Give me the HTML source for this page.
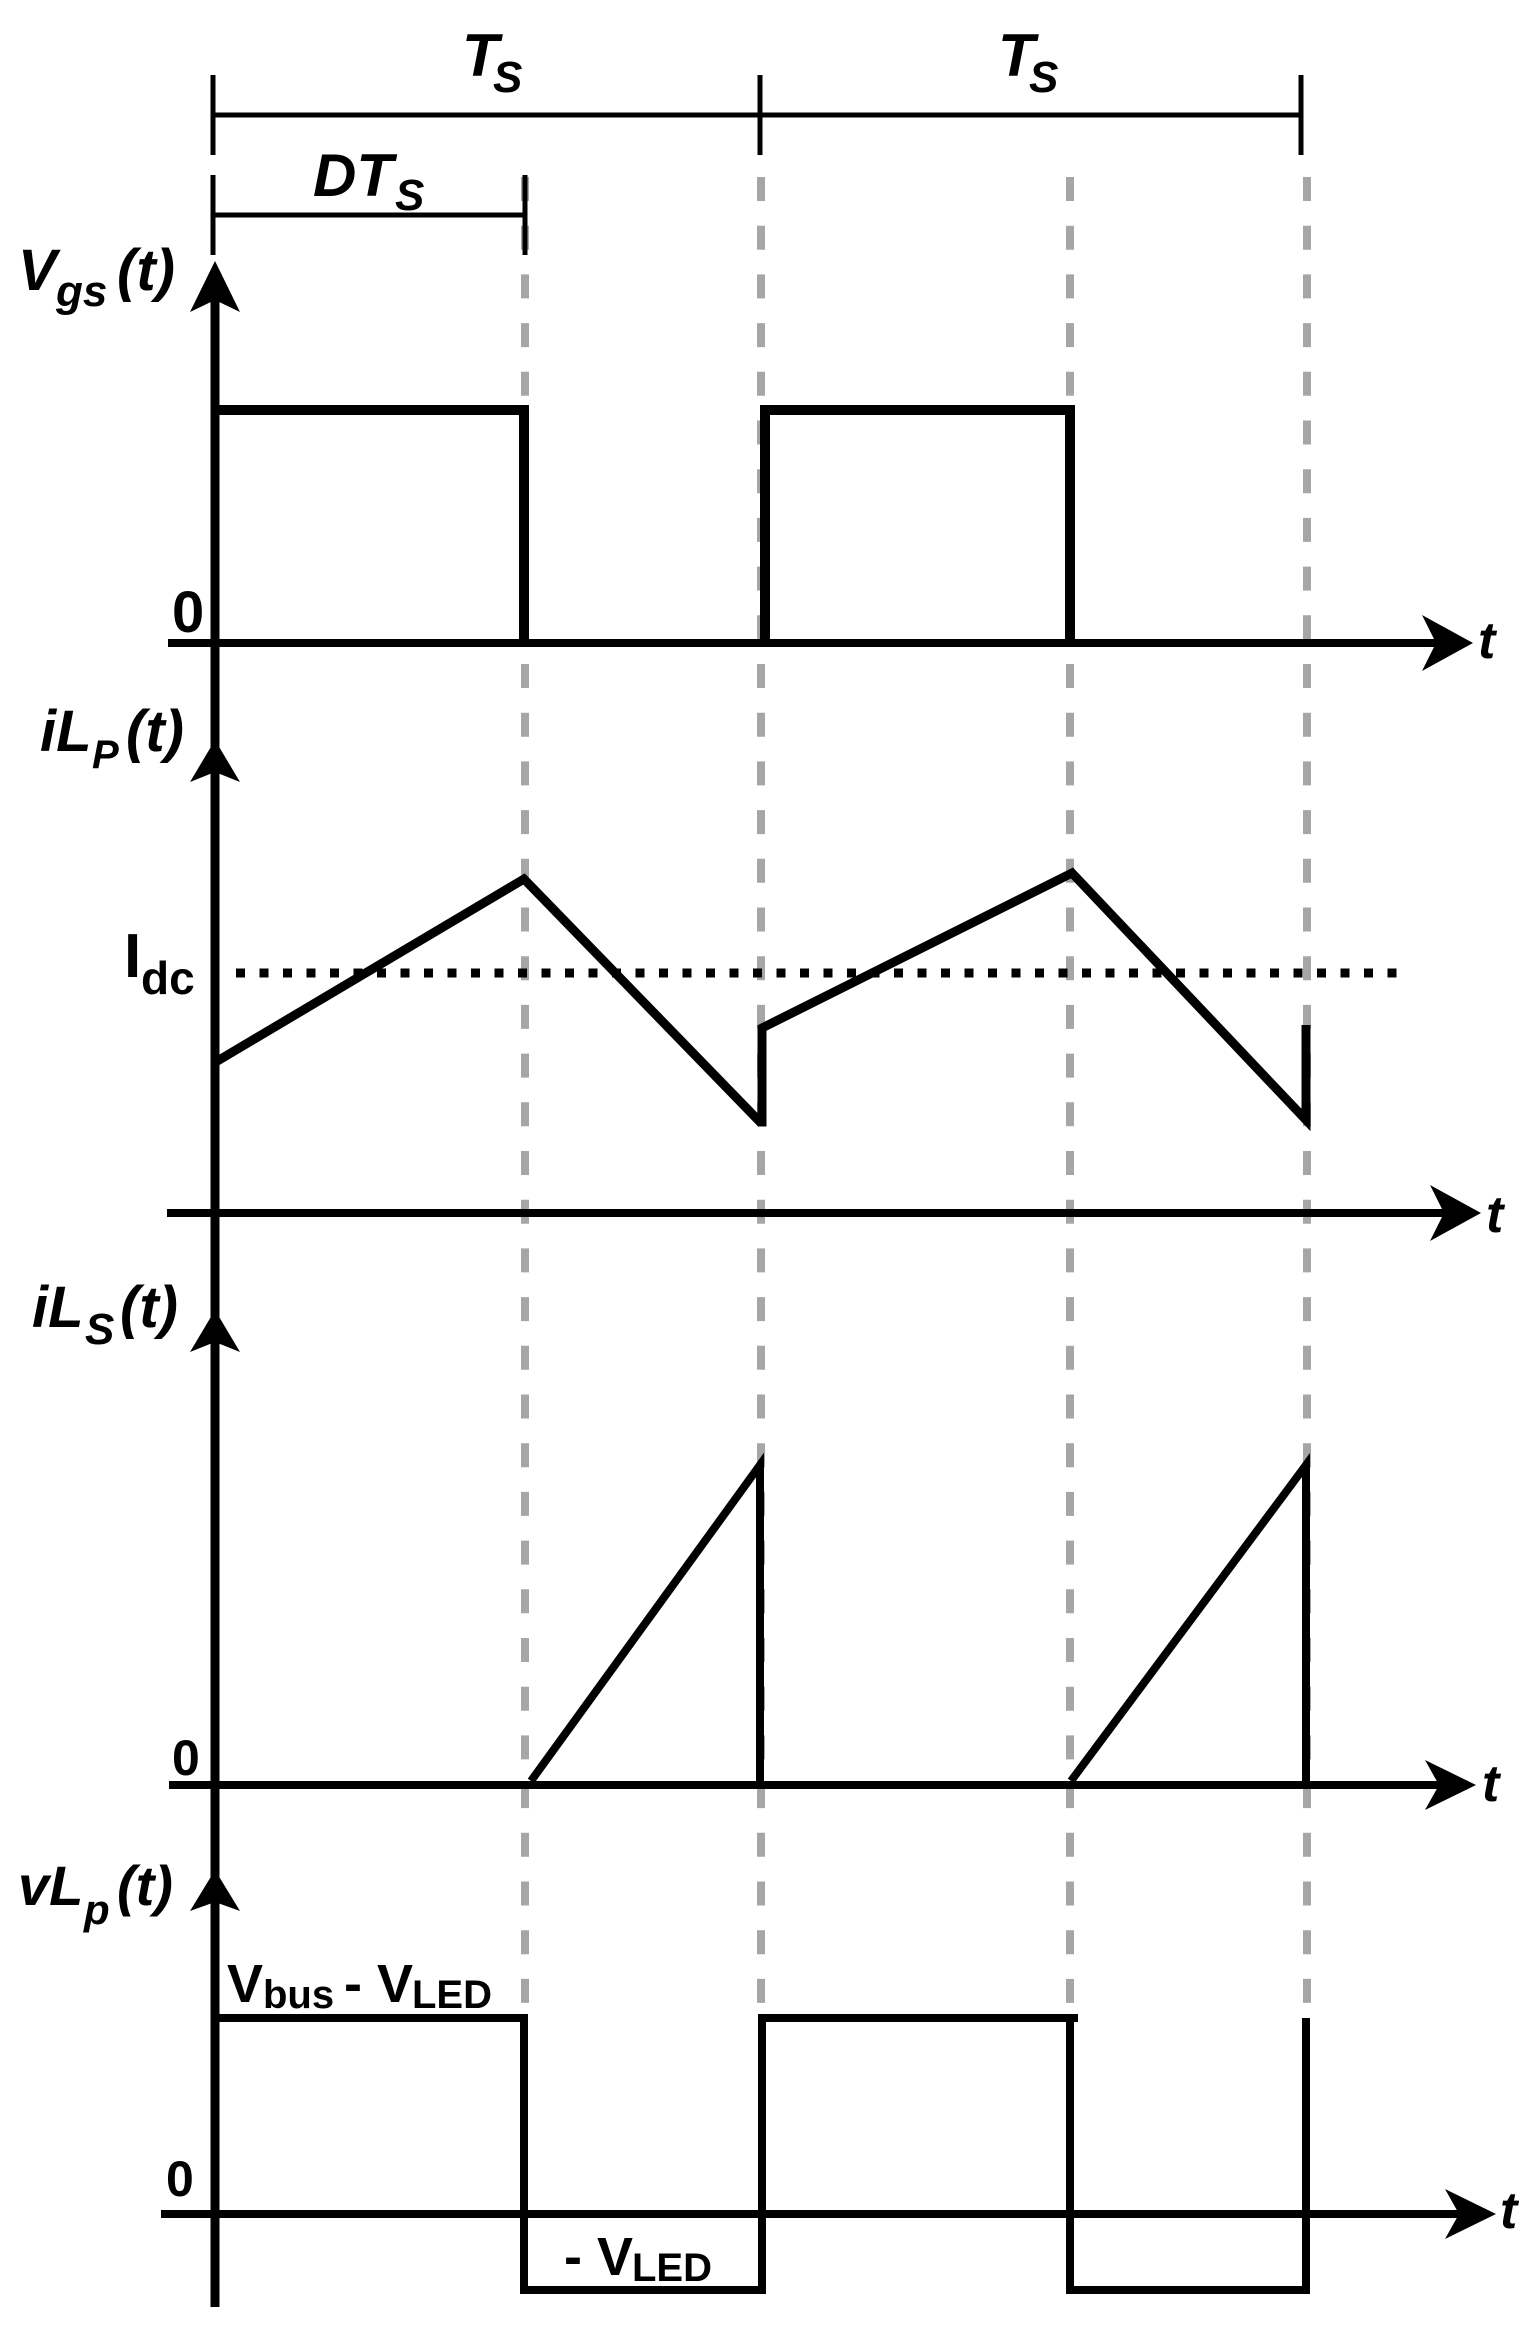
<!DOCTYPE html>
<html><head><meta charset="utf-8"><style>
html,body{margin:0;padding:0;background:#fff;}
svg{display:block;}
text{font-family:"Liberation Sans",Arial,sans-serif;fill:#000;}
.bi{font-weight:bold;font-style:italic;}
.b{font-weight:bold;}
</style></head><body>
<svg width="1536" height="2331" viewBox="0 0 1536 2331" xmlns="http://www.w3.org/2000/svg">
<g stroke="#a6a6a6" stroke-width="8" stroke-dasharray="24 24.7" fill="none">
  <line x1="525" y1="177" x2="525" y2="2014"/>
  <line x1="761" y1="177" x2="761" y2="2014"/>
  <line x1="1070" y1="177" x2="1070" y2="2014"/>
  <line x1="1307" y1="177" x2="1307" y2="2014"/>
</g>
<g stroke="#000" stroke-width="5" fill="none">
  <line x1="213" y1="75" x2="213" y2="155"/>
  <line x1="760" y1="75" x2="760" y2="155"/>
  <line x1="1301" y1="75" x2="1301" y2="155"/>
  <line x1="213" y1="115" x2="1301" y2="115"/>
  <line x1="213" y1="175" x2="213" y2="255"/>
  <line x1="525" y1="175" x2="525" y2="255"/>
  <line x1="213" y1="215" x2="525" y2="215"/>
</g>
<text x="462" y="76" class="bi" font-size="60">T</text>
<text x="493" y="92" class="bi" font-size="44">S</text>
<text x="998" y="76" class="bi" font-size="60">T</text>
<text x="1029" y="92" class="bi" font-size="44">S</text>
<text x="313" y="196" class="bi" font-size="60">DT</text>
<text x="395" y="210" class="bi" font-size="44">S</text>

<line x1="215" y1="290" x2="215" y2="2307" stroke="#000" stroke-width="9"/>
<g fill="#000">
  <polygon points="215,261 240,312 215,300 190,312"/>
  <polygon points="215,740 240,782 215,772 190,782"/>
  <polygon points="215,1310 240,1352 215,1342 190,1352"/>
  <polygon points="215,1870 240,1911 215,1902 190,1911"/>
</g>
<g stroke="#000" stroke-width="8">
  <line x1="168" y1="643" x2="1440" y2="643"/>
  <line x1="167" y1="1213" x2="1445" y2="1213"/>
  <line x1="169" y1="1785" x2="1440" y2="1785"/>
  <line x1="161" y1="2214" x2="1460" y2="2214"/>
</g>
<g fill="#000">
  <polygon points="1473,643 1422,615 1436,643 1422,671"/>
  <polygon points="1481,1213 1430,1185 1444,1213 1430,1241"/>
  <polygon points="1476,1785 1425,1760 1439,1785 1425,1810"/>
  <polygon points="1496,2214 1445,2189 1459,2214 1445,2239"/>
</g>
<g class="bi" font-size="52">
  <text x="1478" y="658">t</text>
  <text x="1486" y="1232">t</text>
  <text x="1482" y="1801">t</text>
  <text x="1500" y="2228">t</text>
</g>

<text x="18" y="290" class="bi" font-size="58">V</text>
<text x="56" y="306" class="bi" font-size="44">gs</text>
<text x="117" y="290" class="bi" font-size="58">(t)</text>
<text x="172" y="632" class="b" font-size="58">0</text>
<polyline points="215,410 524,410 524,643" fill="none" stroke="#000" stroke-width="10"/>
<polyline points="765,643 765,410 1070,410 1070,643" fill="none" stroke="#000" stroke-width="10"/>

<text x="40" y="751" class="bi" font-size="58">iL</text>
<text x="92" y="768" class="bi" font-size="40">P</text>
<text x="126" y="751" class="bi" font-size="58">(t)</text>
<text x="124" y="977" class="b" font-size="62">I</text>
<text x="141" y="994" class="b" font-size="46">dc</text>
<line x1="236" y1="973" x2="1405" y2="973" stroke="#000" stroke-width="9" stroke-dasharray="9 14.5"/>
<polyline points="214,1063 524,879 760,1122 762,1122 762,1028 1072,873 1306,1120 1306,1025" fill="none" stroke="#000" stroke-width="9" stroke-linejoin="miter"/>

<text x="32" y="1327" class="bi" font-size="58">iL</text>
<text x="85" y="1344" class="bi" font-size="44">S</text>
<text x="120" y="1327" class="bi" font-size="58">(t)</text>
<text x="172" y="1775" class="b" font-size="50">0</text>
<polyline points="531,1781 760,1465 760,1785" fill="none" stroke="#000" stroke-width="8"/>
<polyline points="1071,1781 1306,1465 1306,1785" fill="none" stroke="#000" stroke-width="8"/>

<text x="18" y="1905" class="bi" font-size="56">vL</text>
<text x="84" y="1924" class="bi" font-size="42">p</text>
<text x="117" y="1905" class="bi" font-size="56">(t)</text>
<text x="227" y="2002" class="b" font-size="54">V</text>
<text x="263" y="2008" class="b" font-size="40">bus</text>
<text x="344" y="2002" class="b" font-size="54">- V</text>
<text x="412" y="2008" class="b" font-size="40">LED</text>
<text x="166" y="2196" class="b" font-size="50">0</text>
<text x="564" y="2275" class="b" font-size="54">- V</text>
<text x="632" y="2281" class="b" font-size="40">LED</text>
<polyline points="215,2018 524,2018 524,2290 762,2290 762,2018 1078,2018" fill="none" stroke="#000" stroke-width="8"/>
<polyline points="1070,2018 1070,2290 1306,2290 1306,2018" fill="none" stroke="#000" stroke-width="8"/>
</svg>
</body></html>
